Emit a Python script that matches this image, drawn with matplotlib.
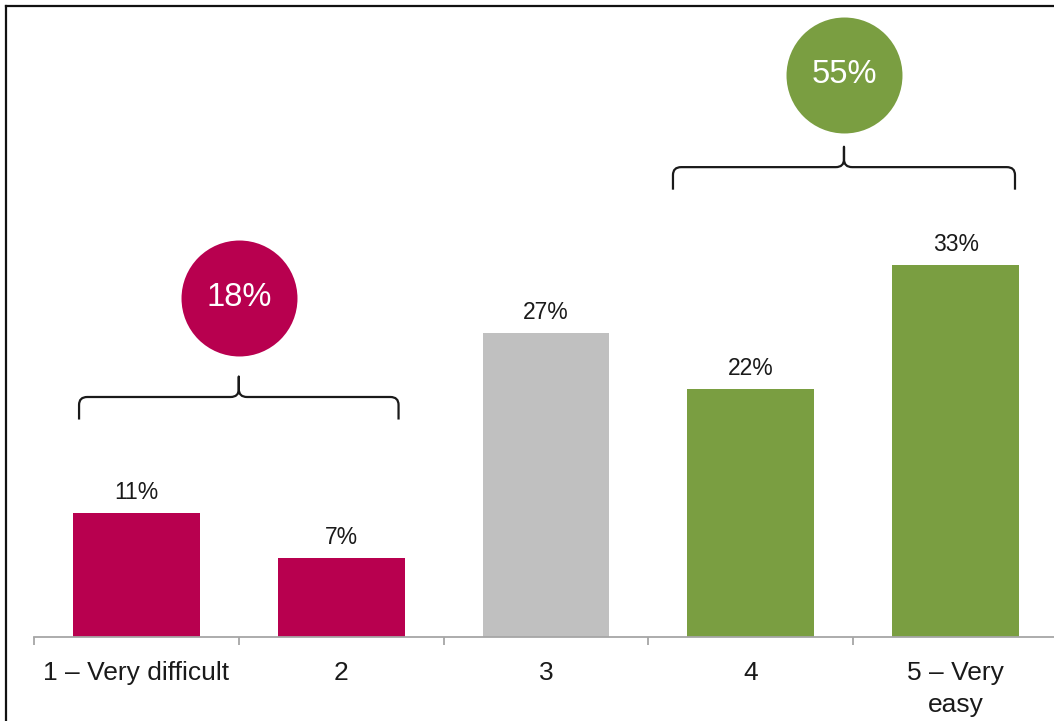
import matplotlib
matplotlib.use("Agg")
import matplotlib.pyplot as plt
from matplotlib.path import Path
from matplotlib.patches import PathPatch
from matplotlib.lines import Line2D

plt.rcParams['font.family'] = ['Liberation Sans', 'DejaVu Sans']

# ---- data ----
categories = ["1 \u2013 Very difficult", "2", "3", "4", "5 \u2013 Very\neasy"]
values = [11, 7, 27, 22, 33]
value_labels = ["11%", "7%", "27%", "22%", "33%"]
bar_colors = ["#B8004F", "#B8004F", "#C0C0C0", "#7A9E41", "#7A9E41"]

group_labels = ["18%", "55%"]
group_ranges = [(0, 1), (3, 4)]
group_colors = ["#B8004F", "#7A9E41"]

# ---- layout ----
brace_y = [21.3, 41.7]
circle_y = [30.1, 49.9]
brace_centers = [0.5, 3.455]
brace_half = [0.78, 0.835]

W, H = 1054, 721
fig = plt.figure(figsize=(W / 100, H / 100), dpi=100)
ax = fig.add_axes([34 / W, 84 / H, 1024 / W, 631 / H])
ax.set_xlim(-0.5, 4.5)
ax.set_ylim(0, 56)

x = list(range(len(categories)))
ax.bar(x, values, width=0.62, color=bar_colors, zorder=2)

for xi, v, lab in zip(x, values, value_labels):
    ax.annotate(lab, (xi, v), xytext=(0, 10), textcoords="offset points",
                ha="center", va="baseline", fontsize=16.5, color="#1a1a1a")

# spines / ticks
for s in ["left", "right", "top"]:
    ax.spines[s].set_visible(False)
ax.spines["bottom"].set_color("#A6A6A6")
ax.spines["bottom"].set_linewidth(1.3)
ax.set_yticks([])
ax.set_xticks(x)
ax.set_xticklabels(categories, fontsize=19, color="#1a1a1a", linespacing=1.4)
ax.tick_params(axis="x", which="major", length=0, pad=17.5)
ax.set_xticks([i - 0.5 for i in range(len(categories) + 1)], minor=True)
ax.tick_params(axis="x", which="minor", length=6, width=1.3, color="#A6A6A6", direction="out")


def brace(ax, xc, half, y, arm=2.0, tip=1.8, rx=0.04, ry=0.7):
    x0, x1 = xc - half, xc + half
    verts = [
        (x0, y - arm), (x0, y - ry), (x0, y), (x0 + rx, y),
        (xc - rx, y), (xc, y), (xc, y + ry), (xc, y + tip),
        (xc, y + ry), (xc, y), (xc + rx, y),
        (x1 - rx, y), (x1, y), (x1, y - ry), (x1, y - arm),
    ]
    codes = [
        Path.MOVETO, Path.LINETO, Path.CURVE3, Path.CURVE3,
        Path.LINETO, Path.CURVE3, Path.CURVE3, Path.LINETO,
        Path.LINETO, Path.CURVE3, Path.CURVE3,
        Path.LINETO, Path.CURVE3, Path.CURVE3, Path.LINETO,
    ]
    ax.add_patch(PathPatch(Path(verts, codes), fill=False, lw=1.6,
                           edgecolor="#1a1a1a", clip_on=False, zorder=3,
                           capstyle="butt", joinstyle="round"))


for lab, col, bc, bh, by, cy in zip(group_labels, group_colors, brace_centers,
                                    brace_half, brace_y, circle_y):
    brace(ax, bc, bh, by)
    ax.scatter([bc], [cy], s=83.5 ** 2, color=col, zorder=4, clip_on=False, linewidths=0)
    ax.text(bc, cy, lab, ha="center", va="center", fontsize=23.5, color="white", zorder=5)

# figure frame (left and top)
fig.add_artist(Line2D([6 / W, 6 / W], [0, 1 - 6 / H], transform=fig.transFigure,
                      color="#111111", lw=1.6))
fig.add_artist(Line2D([6 / W, 1], [1 - 6 / H, 1 - 6 / H], transform=fig.transFigure,
                      color="#111111", lw=1.6))

fig.savefig("out.png", dpi=100)
